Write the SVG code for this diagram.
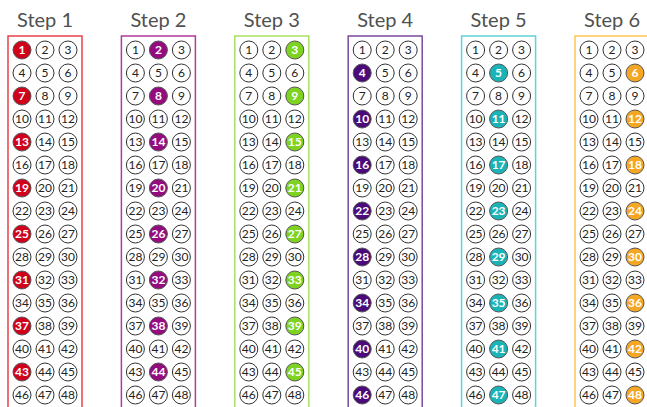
<svg xmlns="http://www.w3.org/2000/svg" width="647" height="407" viewBox="0 0 647 407">
<style>
.title{font-family:Lato,"Open Sans","Liberation Sans",sans-serif;font-size:20px;fill:#505050;text-anchor:middle}
circle{fill:#fff;stroke:#333;stroke-width:1}
text.n{font-family:Lato,"Open Sans","Liberation Sans",sans-serif;font-size:12px;fill:#222;text-anchor:middle}
.box{fill:none;stroke-width:1.5}
.s1 .box{stroke:#e8424a}.s1 circle.h{fill:#d0021b}
.s2 .box{stroke:#b03a9e}.s2 circle.h{fill:#960a80}
.s3 .box{stroke:#a8e063}.s3 circle.h{fill:#7ed321}
.s4 .box{stroke:#7a4aa0}.s4 circle.h{fill:#4b0a7a}
.s5 .box{stroke:#5fd3d6}.s5 circle.h{fill:#19b3b8}
.s6 .box{stroke:#ffc451}.s6 circle.h{fill:#f5a623}
circle.h{stroke:#555}
text.h{fill:#fff;font-weight:bold}
</style>
<g id="step1" class="s1">
<text class="title" x="45" y="27">Step 1</text>
<rect class="box" x="8" y="36" width="74" height="380"/>
<circle class="h" cx="22" cy="50" r="9"/><circle cx="45" cy="50" r="9"/><circle cx="68" cy="50" r="9"/>
<circle cx="22" cy="73" r="9"/><circle cx="45" cy="73" r="9"/><circle cx="68" cy="73" r="9"/>
<circle class="h" cx="22" cy="96" r="9"/><circle cx="45" cy="96" r="9"/><circle cx="68" cy="96" r="9"/>
<circle cx="22" cy="119" r="9"/><circle cx="45" cy="119" r="9"/><circle cx="68" cy="119" r="9"/>
<circle class="h" cx="22" cy="142" r="9"/><circle cx="45" cy="142" r="9"/><circle cx="68" cy="142" r="9"/>
<circle cx="22" cy="165" r="9"/><circle cx="45" cy="165" r="9"/><circle cx="68" cy="165" r="9"/>
<circle class="h" cx="22" cy="188" r="9"/><circle cx="45" cy="188" r="9"/><circle cx="68" cy="188" r="9"/>
<circle cx="22" cy="211" r="9"/><circle cx="45" cy="211" r="9"/><circle cx="68" cy="211" r="9"/>
<circle class="h" cx="22" cy="234" r="9"/><circle cx="45" cy="234" r="9"/><circle cx="68" cy="234" r="9"/>
<circle cx="22" cy="257" r="9"/><circle cx="45" cy="257" r="9"/><circle cx="68" cy="257" r="9"/>
<circle class="h" cx="22" cy="280" r="9"/><circle cx="45" cy="280" r="9"/><circle cx="68" cy="280" r="9"/>
<circle cx="22" cy="303" r="9"/><circle cx="45" cy="303" r="9"/><circle cx="68" cy="303" r="9"/>
<circle class="h" cx="22" cy="326" r="9"/><circle cx="45" cy="326" r="9"/><circle cx="68" cy="326" r="9"/>
<circle cx="22" cy="349" r="9"/><circle cx="45" cy="349" r="9"/><circle cx="68" cy="349" r="9"/>
<circle class="h" cx="22" cy="372" r="9"/><circle cx="45" cy="372" r="9"/><circle cx="68" cy="372" r="9"/>
<circle cx="22" cy="395" r="9"/><circle cx="45" cy="395" r="9"/><circle cx="68" cy="395" r="9"/>
<text class="n h" x="22" y="54">1</text><text class="n" x="45" y="54">2</text><text class="n" x="68" y="54">3</text>
<text class="n" x="22" y="77">4</text><text class="n" x="45" y="77">5</text><text class="n" x="68" y="77">6</text>
<text class="n h" x="22" y="100">7</text><text class="n" x="45" y="100">8</text><text class="n" x="68" y="100">9</text>
<text class="n" x="22" y="123">10</text><text class="n" x="45" y="123">11</text><text class="n" x="68" y="123">12</text>
<text class="n h" x="22" y="146">13</text><text class="n" x="45" y="146">14</text><text class="n" x="68" y="146">15</text>
<text class="n" x="22" y="169">16</text><text class="n" x="45" y="169">17</text><text class="n" x="68" y="169">18</text>
<text class="n h" x="22" y="192">19</text><text class="n" x="45" y="192">20</text><text class="n" x="68" y="192">21</text>
<text class="n" x="22" y="215">22</text><text class="n" x="45" y="215">23</text><text class="n" x="68" y="215">24</text>
<text class="n h" x="22" y="238">25</text><text class="n" x="45" y="238">26</text><text class="n" x="68" y="238">27</text>
<text class="n" x="22" y="261">28</text><text class="n" x="45" y="261">29</text><text class="n" x="68" y="261">30</text>
<text class="n h" x="22" y="284">31</text><text class="n" x="45" y="284">32</text><text class="n" x="68" y="284">33</text>
<text class="n" x="22" y="307">34</text><text class="n" x="45" y="307">35</text><text class="n" x="68" y="307">36</text>
<text class="n h" x="22" y="330">37</text><text class="n" x="45" y="330">38</text><text class="n" x="68" y="330">39</text>
<text class="n" x="22" y="353">40</text><text class="n" x="45" y="353">41</text><text class="n" x="68" y="353">42</text>
<text class="n h" x="22" y="376">43</text><text class="n" x="45" y="376">44</text><text class="n" x="68" y="376">45</text>
<text class="n" x="22" y="399">46</text><text class="n" x="45" y="399">47</text><text class="n" x="68" y="399">48</text>
</g>
<g id="step2" class="s2" transform="translate(113.4,0)">
<text class="title" x="45" y="27">Step 2</text>
<rect class="box" x="8" y="36" width="74" height="380"/>
<circle cx="22" cy="50" r="9"/><circle class="h" cx="45" cy="50" r="9"/><circle cx="68" cy="50" r="9"/>
<circle cx="22" cy="73" r="9"/><circle cx="45" cy="73" r="9"/><circle cx="68" cy="73" r="9"/>
<circle cx="22" cy="96" r="9"/><circle class="h" cx="45" cy="96" r="9"/><circle cx="68" cy="96" r="9"/>
<circle cx="22" cy="119" r="9"/><circle cx="45" cy="119" r="9"/><circle cx="68" cy="119" r="9"/>
<circle cx="22" cy="142" r="9"/><circle class="h" cx="45" cy="142" r="9"/><circle cx="68" cy="142" r="9"/>
<circle cx="22" cy="165" r="9"/><circle cx="45" cy="165" r="9"/><circle cx="68" cy="165" r="9"/>
<circle cx="22" cy="188" r="9"/><circle class="h" cx="45" cy="188" r="9"/><circle cx="68" cy="188" r="9"/>
<circle cx="22" cy="211" r="9"/><circle cx="45" cy="211" r="9"/><circle cx="68" cy="211" r="9"/>
<circle cx="22" cy="234" r="9"/><circle class="h" cx="45" cy="234" r="9"/><circle cx="68" cy="234" r="9"/>
<circle cx="22" cy="257" r="9"/><circle cx="45" cy="257" r="9"/><circle cx="68" cy="257" r="9"/>
<circle cx="22" cy="280" r="9"/><circle class="h" cx="45" cy="280" r="9"/><circle cx="68" cy="280" r="9"/>
<circle cx="22" cy="303" r="9"/><circle cx="45" cy="303" r="9"/><circle cx="68" cy="303" r="9"/>
<circle cx="22" cy="326" r="9"/><circle class="h" cx="45" cy="326" r="9"/><circle cx="68" cy="326" r="9"/>
<circle cx="22" cy="349" r="9"/><circle cx="45" cy="349" r="9"/><circle cx="68" cy="349" r="9"/>
<circle cx="22" cy="372" r="9"/><circle class="h" cx="45" cy="372" r="9"/><circle cx="68" cy="372" r="9"/>
<circle cx="22" cy="395" r="9"/><circle cx="45" cy="395" r="9"/><circle cx="68" cy="395" r="9"/>
<text class="n" x="22" y="54">1</text><text class="n h" x="45" y="54">2</text><text class="n" x="68" y="54">3</text>
<text class="n" x="22" y="77">4</text><text class="n" x="45" y="77">5</text><text class="n" x="68" y="77">6</text>
<text class="n" x="22" y="100">7</text><text class="n h" x="45" y="100">8</text><text class="n" x="68" y="100">9</text>
<text class="n" x="22" y="123">10</text><text class="n" x="45" y="123">11</text><text class="n" x="68" y="123">12</text>
<text class="n" x="22" y="146">13</text><text class="n h" x="45" y="146">14</text><text class="n" x="68" y="146">15</text>
<text class="n" x="22" y="169">16</text><text class="n" x="45" y="169">17</text><text class="n" x="68" y="169">18</text>
<text class="n" x="22" y="192">19</text><text class="n h" x="45" y="192">20</text><text class="n" x="68" y="192">21</text>
<text class="n" x="22" y="215">22</text><text class="n" x="45" y="215">23</text><text class="n" x="68" y="215">24</text>
<text class="n" x="22" y="238">25</text><text class="n h" x="45" y="238">26</text><text class="n" x="68" y="238">27</text>
<text class="n" x="22" y="261">28</text><text class="n" x="45" y="261">29</text><text class="n" x="68" y="261">30</text>
<text class="n" x="22" y="284">31</text><text class="n h" x="45" y="284">32</text><text class="n" x="68" y="284">33</text>
<text class="n" x="22" y="307">34</text><text class="n" x="45" y="307">35</text><text class="n" x="68" y="307">36</text>
<text class="n" x="22" y="330">37</text><text class="n h" x="45" y="330">38</text><text class="n" x="68" y="330">39</text>
<text class="n" x="22" y="353">40</text><text class="n" x="45" y="353">41</text><text class="n" x="68" y="353">42</text>
<text class="n" x="22" y="376">43</text><text class="n h" x="45" y="376">44</text><text class="n" x="68" y="376">45</text>
<text class="n" x="22" y="399">46</text><text class="n" x="45" y="399">47</text><text class="n" x="68" y="399">48</text>
</g>
<g id="step3" class="s3" transform="translate(226.8,0)">
<text class="title" x="45" y="27">Step 3</text>
<rect class="box" x="8" y="36" width="74" height="380"/>
<circle cx="22" cy="50" r="9"/><circle cx="45" cy="50" r="9"/><circle class="h" cx="68" cy="50" r="9"/>
<circle cx="22" cy="73" r="9"/><circle cx="45" cy="73" r="9"/><circle cx="68" cy="73" r="9"/>
<circle cx="22" cy="96" r="9"/><circle cx="45" cy="96" r="9"/><circle class="h" cx="68" cy="96" r="9"/>
<circle cx="22" cy="119" r="9"/><circle cx="45" cy="119" r="9"/><circle cx="68" cy="119" r="9"/>
<circle cx="22" cy="142" r="9"/><circle cx="45" cy="142" r="9"/><circle class="h" cx="68" cy="142" r="9"/>
<circle cx="22" cy="165" r="9"/><circle cx="45" cy="165" r="9"/><circle cx="68" cy="165" r="9"/>
<circle cx="22" cy="188" r="9"/><circle cx="45" cy="188" r="9"/><circle class="h" cx="68" cy="188" r="9"/>
<circle cx="22" cy="211" r="9"/><circle cx="45" cy="211" r="9"/><circle cx="68" cy="211" r="9"/>
<circle cx="22" cy="234" r="9"/><circle cx="45" cy="234" r="9"/><circle class="h" cx="68" cy="234" r="9"/>
<circle cx="22" cy="257" r="9"/><circle cx="45" cy="257" r="9"/><circle cx="68" cy="257" r="9"/>
<circle cx="22" cy="280" r="9"/><circle cx="45" cy="280" r="9"/><circle class="h" cx="68" cy="280" r="9"/>
<circle cx="22" cy="303" r="9"/><circle cx="45" cy="303" r="9"/><circle cx="68" cy="303" r="9"/>
<circle cx="22" cy="326" r="9"/><circle cx="45" cy="326" r="9"/><circle class="h" cx="68" cy="326" r="9"/>
<circle cx="22" cy="349" r="9"/><circle cx="45" cy="349" r="9"/><circle cx="68" cy="349" r="9"/>
<circle cx="22" cy="372" r="9"/><circle cx="45" cy="372" r="9"/><circle class="h" cx="68" cy="372" r="9"/>
<circle cx="22" cy="395" r="9"/><circle cx="45" cy="395" r="9"/><circle cx="68" cy="395" r="9"/>
<text class="n" x="22" y="54">1</text><text class="n" x="45" y="54">2</text><text class="n h" x="68" y="54">3</text>
<text class="n" x="22" y="77">4</text><text class="n" x="45" y="77">5</text><text class="n" x="68" y="77">6</text>
<text class="n" x="22" y="100">7</text><text class="n" x="45" y="100">8</text><text class="n h" x="68" y="100">9</text>
<text class="n" x="22" y="123">10</text><text class="n" x="45" y="123">11</text><text class="n" x="68" y="123">12</text>
<text class="n" x="22" y="146">13</text><text class="n" x="45" y="146">14</text><text class="n h" x="68" y="146">15</text>
<text class="n" x="22" y="169">16</text><text class="n" x="45" y="169">17</text><text class="n" x="68" y="169">18</text>
<text class="n" x="22" y="192">19</text><text class="n" x="45" y="192">20</text><text class="n h" x="68" y="192">21</text>
<text class="n" x="22" y="215">22</text><text class="n" x="45" y="215">23</text><text class="n" x="68" y="215">24</text>
<text class="n" x="22" y="238">25</text><text class="n" x="45" y="238">26</text><text class="n h" x="68" y="238">27</text>
<text class="n" x="22" y="261">28</text><text class="n" x="45" y="261">29</text><text class="n" x="68" y="261">30</text>
<text class="n" x="22" y="284">31</text><text class="n" x="45" y="284">32</text><text class="n h" x="68" y="284">33</text>
<text class="n" x="22" y="307">34</text><text class="n" x="45" y="307">35</text><text class="n" x="68" y="307">36</text>
<text class="n" x="22" y="330">37</text><text class="n" x="45" y="330">38</text><text class="n h" x="68" y="330">39</text>
<text class="n" x="22" y="353">40</text><text class="n" x="45" y="353">41</text><text class="n" x="68" y="353">42</text>
<text class="n" x="22" y="376">43</text><text class="n" x="45" y="376">44</text><text class="n h" x="68" y="376">45</text>
<text class="n" x="22" y="399">46</text><text class="n" x="45" y="399">47</text><text class="n" x="68" y="399">48</text>
</g>
<g id="step4" class="s4" transform="translate(340.2,0)">
<text class="title" x="45" y="27">Step 4</text>
<rect class="box" x="8" y="36" width="74" height="380"/>
<circle cx="22" cy="50" r="9"/><circle cx="45" cy="50" r="9"/><circle cx="68" cy="50" r="9"/>
<circle class="h" cx="22" cy="73" r="9"/><circle cx="45" cy="73" r="9"/><circle cx="68" cy="73" r="9"/>
<circle cx="22" cy="96" r="9"/><circle cx="45" cy="96" r="9"/><circle cx="68" cy="96" r="9"/>
<circle class="h" cx="22" cy="119" r="9"/><circle cx="45" cy="119" r="9"/><circle cx="68" cy="119" r="9"/>
<circle cx="22" cy="142" r="9"/><circle cx="45" cy="142" r="9"/><circle cx="68" cy="142" r="9"/>
<circle class="h" cx="22" cy="165" r="9"/><circle cx="45" cy="165" r="9"/><circle cx="68" cy="165" r="9"/>
<circle cx="22" cy="188" r="9"/><circle cx="45" cy="188" r="9"/><circle cx="68" cy="188" r="9"/>
<circle class="h" cx="22" cy="211" r="9"/><circle cx="45" cy="211" r="9"/><circle cx="68" cy="211" r="9"/>
<circle cx="22" cy="234" r="9"/><circle cx="45" cy="234" r="9"/><circle cx="68" cy="234" r="9"/>
<circle class="h" cx="22" cy="257" r="9"/><circle cx="45" cy="257" r="9"/><circle cx="68" cy="257" r="9"/>
<circle cx="22" cy="280" r="9"/><circle cx="45" cy="280" r="9"/><circle cx="68" cy="280" r="9"/>
<circle class="h" cx="22" cy="303" r="9"/><circle cx="45" cy="303" r="9"/><circle cx="68" cy="303" r="9"/>
<circle cx="22" cy="326" r="9"/><circle cx="45" cy="326" r="9"/><circle cx="68" cy="326" r="9"/>
<circle class="h" cx="22" cy="349" r="9"/><circle cx="45" cy="349" r="9"/><circle cx="68" cy="349" r="9"/>
<circle cx="22" cy="372" r="9"/><circle cx="45" cy="372" r="9"/><circle cx="68" cy="372" r="9"/>
<circle class="h" cx="22" cy="395" r="9"/><circle cx="45" cy="395" r="9"/><circle cx="68" cy="395" r="9"/>
<text class="n" x="22" y="54">1</text><text class="n" x="45" y="54">2</text><text class="n" x="68" y="54">3</text>
<text class="n h" x="22" y="77">4</text><text class="n" x="45" y="77">5</text><text class="n" x="68" y="77">6</text>
<text class="n" x="22" y="100">7</text><text class="n" x="45" y="100">8</text><text class="n" x="68" y="100">9</text>
<text class="n h" x="22" y="123">10</text><text class="n" x="45" y="123">11</text><text class="n" x="68" y="123">12</text>
<text class="n" x="22" y="146">13</text><text class="n" x="45" y="146">14</text><text class="n" x="68" y="146">15</text>
<text class="n h" x="22" y="169">16</text><text class="n" x="45" y="169">17</text><text class="n" x="68" y="169">18</text>
<text class="n" x="22" y="192">19</text><text class="n" x="45" y="192">20</text><text class="n" x="68" y="192">21</text>
<text class="n h" x="22" y="215">22</text><text class="n" x="45" y="215">23</text><text class="n" x="68" y="215">24</text>
<text class="n" x="22" y="238">25</text><text class="n" x="45" y="238">26</text><text class="n" x="68" y="238">27</text>
<text class="n h" x="22" y="261">28</text><text class="n" x="45" y="261">29</text><text class="n" x="68" y="261">30</text>
<text class="n" x="22" y="284">31</text><text class="n" x="45" y="284">32</text><text class="n" x="68" y="284">33</text>
<text class="n h" x="22" y="307">34</text><text class="n" x="45" y="307">35</text><text class="n" x="68" y="307">36</text>
<text class="n" x="22" y="330">37</text><text class="n" x="45" y="330">38</text><text class="n" x="68" y="330">39</text>
<text class="n h" x="22" y="353">40</text><text class="n" x="45" y="353">41</text><text class="n" x="68" y="353">42</text>
<text class="n" x="22" y="376">43</text><text class="n" x="45" y="376">44</text><text class="n" x="68" y="376">45</text>
<text class="n h" x="22" y="399">46</text><text class="n" x="45" y="399">47</text><text class="n" x="68" y="399">48</text>
</g>
<g id="step5" class="s5" transform="translate(453.6,0)">
<text class="title" x="45" y="27">Step 5</text>
<rect class="box" x="8" y="36" width="74" height="380"/>
<circle cx="22" cy="50" r="9"/><circle cx="45" cy="50" r="9"/><circle cx="68" cy="50" r="9"/>
<circle cx="22" cy="73" r="9"/><circle class="h" cx="45" cy="73" r="9"/><circle cx="68" cy="73" r="9"/>
<circle cx="22" cy="96" r="9"/><circle cx="45" cy="96" r="9"/><circle cx="68" cy="96" r="9"/>
<circle cx="22" cy="119" r="9"/><circle class="h" cx="45" cy="119" r="9"/><circle cx="68" cy="119" r="9"/>
<circle cx="22" cy="142" r="9"/><circle cx="45" cy="142" r="9"/><circle cx="68" cy="142" r="9"/>
<circle cx="22" cy="165" r="9"/><circle class="h" cx="45" cy="165" r="9"/><circle cx="68" cy="165" r="9"/>
<circle cx="22" cy="188" r="9"/><circle cx="45" cy="188" r="9"/><circle cx="68" cy="188" r="9"/>
<circle cx="22" cy="211" r="9"/><circle class="h" cx="45" cy="211" r="9"/><circle cx="68" cy="211" r="9"/>
<circle cx="22" cy="234" r="9"/><circle cx="45" cy="234" r="9"/><circle cx="68" cy="234" r="9"/>
<circle cx="22" cy="257" r="9"/><circle class="h" cx="45" cy="257" r="9"/><circle cx="68" cy="257" r="9"/>
<circle cx="22" cy="280" r="9"/><circle cx="45" cy="280" r="9"/><circle cx="68" cy="280" r="9"/>
<circle cx="22" cy="303" r="9"/><circle class="h" cx="45" cy="303" r="9"/><circle cx="68" cy="303" r="9"/>
<circle cx="22" cy="326" r="9"/><circle cx="45" cy="326" r="9"/><circle cx="68" cy="326" r="9"/>
<circle cx="22" cy="349" r="9"/><circle class="h" cx="45" cy="349" r="9"/><circle cx="68" cy="349" r="9"/>
<circle cx="22" cy="372" r="9"/><circle cx="45" cy="372" r="9"/><circle cx="68" cy="372" r="9"/>
<circle cx="22" cy="395" r="9"/><circle class="h" cx="45" cy="395" r="9"/><circle cx="68" cy="395" r="9"/>
<text class="n" x="22" y="54">1</text><text class="n" x="45" y="54">2</text><text class="n" x="68" y="54">3</text>
<text class="n" x="22" y="77">4</text><text class="n h" x="45" y="77">5</text><text class="n" x="68" y="77">6</text>
<text class="n" x="22" y="100">7</text><text class="n" x="45" y="100">8</text><text class="n" x="68" y="100">9</text>
<text class="n" x="22" y="123">10</text><text class="n h" x="45" y="123">11</text><text class="n" x="68" y="123">12</text>
<text class="n" x="22" y="146">13</text><text class="n" x="45" y="146">14</text><text class="n" x="68" y="146">15</text>
<text class="n" x="22" y="169">16</text><text class="n h" x="45" y="169">17</text><text class="n" x="68" y="169">18</text>
<text class="n" x="22" y="192">19</text><text class="n" x="45" y="192">20</text><text class="n" x="68" y="192">21</text>
<text class="n" x="22" y="215">22</text><text class="n h" x="45" y="215">23</text><text class="n" x="68" y="215">24</text>
<text class="n" x="22" y="238">25</text><text class="n" x="45" y="238">26</text><text class="n" x="68" y="238">27</text>
<text class="n" x="22" y="261">28</text><text class="n h" x="45" y="261">29</text><text class="n" x="68" y="261">30</text>
<text class="n" x="22" y="284">31</text><text class="n" x="45" y="284">32</text><text class="n" x="68" y="284">33</text>
<text class="n" x="22" y="307">34</text><text class="n h" x="45" y="307">35</text><text class="n" x="68" y="307">36</text>
<text class="n" x="22" y="330">37</text><text class="n" x="45" y="330">38</text><text class="n" x="68" y="330">39</text>
<text class="n" x="22" y="353">40</text><text class="n h" x="45" y="353">41</text><text class="n" x="68" y="353">42</text>
<text class="n" x="22" y="376">43</text><text class="n" x="45" y="376">44</text><text class="n" x="68" y="376">45</text>
<text class="n" x="22" y="399">46</text><text class="n h" x="45" y="399">47</text><text class="n" x="68" y="399">48</text>
</g>
<g id="step6" class="s6" transform="translate(567,0)">
<text class="title" x="45" y="27">Step 6</text>
<rect class="box" x="8" y="36" width="74" height="380"/>
<circle cx="22" cy="50" r="9"/><circle cx="45" cy="50" r="9"/><circle cx="68" cy="50" r="9"/>
<circle cx="22" cy="73" r="9"/><circle cx="45" cy="73" r="9"/><circle class="h" cx="68" cy="73" r="9"/>
<circle cx="22" cy="96" r="9"/><circle cx="45" cy="96" r="9"/><circle cx="68" cy="96" r="9"/>
<circle cx="22" cy="119" r="9"/><circle cx="45" cy="119" r="9"/><circle class="h" cx="68" cy="119" r="9"/>
<circle cx="22" cy="142" r="9"/><circle cx="45" cy="142" r="9"/><circle cx="68" cy="142" r="9"/>
<circle cx="22" cy="165" r="9"/><circle cx="45" cy="165" r="9"/><circle class="h" cx="68" cy="165" r="9"/>
<circle cx="22" cy="188" r="9"/><circle cx="45" cy="188" r="9"/><circle cx="68" cy="188" r="9"/>
<circle cx="22" cy="211" r="9"/><circle cx="45" cy="211" r="9"/><circle class="h" cx="68" cy="211" r="9"/>
<circle cx="22" cy="234" r="9"/><circle cx="45" cy="234" r="9"/><circle cx="68" cy="234" r="9"/>
<circle cx="22" cy="257" r="9"/><circle cx="45" cy="257" r="9"/><circle class="h" cx="68" cy="257" r="9"/>
<circle cx="22" cy="280" r="9"/><circle cx="45" cy="280" r="9"/><circle cx="68" cy="280" r="9"/>
<circle cx="22" cy="303" r="9"/><circle cx="45" cy="303" r="9"/><circle class="h" cx="68" cy="303" r="9"/>
<circle cx="22" cy="326" r="9"/><circle cx="45" cy="326" r="9"/><circle cx="68" cy="326" r="9"/>
<circle cx="22" cy="349" r="9"/><circle cx="45" cy="349" r="9"/><circle class="h" cx="68" cy="349" r="9"/>
<circle cx="22" cy="372" r="9"/><circle cx="45" cy="372" r="9"/><circle cx="68" cy="372" r="9"/>
<circle cx="22" cy="395" r="9"/><circle cx="45" cy="395" r="9"/><circle class="h" cx="68" cy="395" r="9"/>
<text class="n" x="22" y="54">1</text><text class="n" x="45" y="54">2</text><text class="n" x="68" y="54">3</text>
<text class="n" x="22" y="77">4</text><text class="n" x="45" y="77">5</text><text class="n h" x="68" y="77">6</text>
<text class="n" x="22" y="100">7</text><text class="n" x="45" y="100">8</text><text class="n" x="68" y="100">9</text>
<text class="n" x="22" y="123">10</text><text class="n" x="45" y="123">11</text><text class="n h" x="68" y="123">12</text>
<text class="n" x="22" y="146">13</text><text class="n" x="45" y="146">14</text><text class="n" x="68" y="146">15</text>
<text class="n" x="22" y="169">16</text><text class="n" x="45" y="169">17</text><text class="n h" x="68" y="169">18</text>
<text class="n" x="22" y="192">19</text><text class="n" x="45" y="192">20</text><text class="n" x="68" y="192">21</text>
<text class="n" x="22" y="215">22</text><text class="n" x="45" y="215">23</text><text class="n h" x="68" y="215">24</text>
<text class="n" x="22" y="238">25</text><text class="n" x="45" y="238">26</text><text class="n" x="68" y="238">27</text>
<text class="n" x="22" y="261">28</text><text class="n" x="45" y="261">29</text><text class="n h" x="68" y="261">30</text>
<text class="n" x="22" y="284">31</text><text class="n" x="45" y="284">32</text><text class="n" x="68" y="284">33</text>
<text class="n" x="22" y="307">34</text><text class="n" x="45" y="307">35</text><text class="n h" x="68" y="307">36</text>
<text class="n" x="22" y="330">37</text><text class="n" x="45" y="330">38</text><text class="n" x="68" y="330">39</text>
<text class="n" x="22" y="353">40</text><text class="n" x="45" y="353">41</text><text class="n h" x="68" y="353">42</text>
<text class="n" x="22" y="376">43</text><text class="n" x="45" y="376">44</text><text class="n" x="68" y="376">45</text>
<text class="n" x="22" y="399">46</text><text class="n" x="45" y="399">47</text><text class="n h" x="68" y="399">48</text>
</g>
<g id="connectors"/>
</svg>
